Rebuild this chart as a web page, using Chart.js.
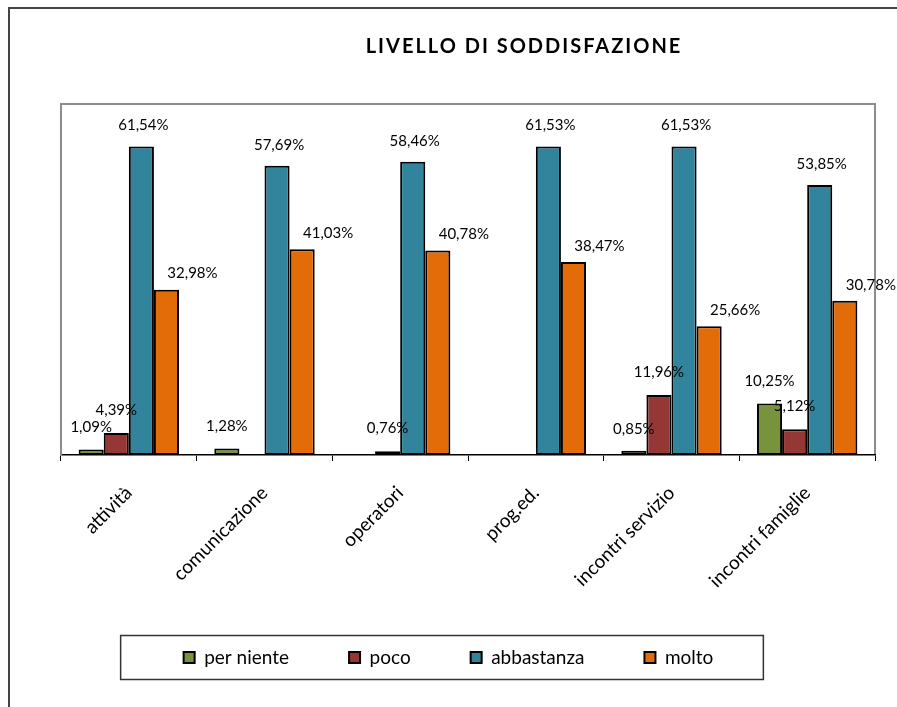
<!DOCTYPE html>
<html lang="it">
<head>
<meta charset="utf-8">
<title>Livello di soddisfazione</title>
<script src="https://cdn.jsdelivr.net/npm/chart.js@4"></script>
<style>
  html, body { margin: 0; padding: 0; background: #fff; overflow: hidden; }
  #wrap { position: relative; width: 897px; height: 707px; }
</style>
</head>
<body>
<div id="wrap"><canvas id="chart"></canvas></div>
<script>
// Values (percent)
const CATEGORIES = ['attività', 'comunicazione', 'operatori', 'prog.ed.', 'incontri servizio', 'incontri famiglie'];
const PER_NIENTE = [1.09, 1.28, 0, 0, 0.85, 10.25];
const POCO = [4.39, 0, 0.76, 0, 11.96, 5.12];
const ABBASTANZA = [61.54, 57.69, 58.46, 61.53, 61.53, 53.85];
const MOLTO = [32.98, 41.03, 40.78, 38.47, 25.66, 30.78];

const TITLE = 'LIVELLO DI SODDISFAZIONE';

const COLORS = {
  perNiente: '#77933C',
  poco: '#953735',
  abbastanza: '#31849B',
  molto: '#E36C09',
};

// label nudges per series: dx, distance above bar top
const LABEL_SHIFT = [
  { dx: 0, dy: 22 },
  { dx: 0, dy: 23 },
  { dx: 2, dy: 21 },
  { dx: 26, dy: 16 },
];

Chart.defaults.font.family = 'Lato, "Open Sans", sans-serif';
Chart.defaults.color = '#000';

const fmt = (v) => v.toFixed(2).replace('.', ',') + '%';

// Frame, plot border, title, value labels, legend box
const decorPlugin = {
  id: 'decor',
  beforeDraw(chart) {
    const { ctx, chartArea: a } = chart;
    ctx.save();
    ctx.strokeStyle = '#444';
    ctx.lineWidth = 2;
    ctx.beginPath();
    ctx.moveTo(9, chart.height);
    ctx.lineTo(9, 8);
    ctx.lineTo(chart.width + 2, 8);
    ctx.stroke();

    ctx.strokeStyle = '#8c8c8c';
    ctx.lineWidth = 2;
    ctx.beginPath();
    ctx.moveTo(a.left, a.top);
    ctx.lineTo(a.right, a.top);
    ctx.lineTo(a.right, a.bottom);
    ctx.stroke();

    ctx.fillStyle = '#000';
    ctx.font = 'bold 20px Lato, sans-serif';
    ctx.letterSpacing = '2px';
    ctx.textAlign = 'center';
    ctx.textBaseline = 'middle';
    ctx.fillText(TITLE, 524, 47);
    ctx.restore();
  },
  afterDatasetsDraw(chart) {
    const { ctx } = chart;
    ctx.save();
    ctx.font = '15px Lato, sans-serif';
    ctx.fillStyle = '#000';
    ctx.textAlign = 'center';
    ctx.textBaseline = 'middle';
    chart.data.datasets.forEach((ds, i) => {
      const meta = chart.getDatasetMeta(i);
      const s = LABEL_SHIFT[i];
      meta.data.forEach((bar, j) => {
        const v = ds.data[j];
        if (!v) return;
        ctx.fillText(fmt(v), bar.x + s.dx, bar.y - s.dy);
      });
    });
    ctx.restore();
  },
  afterDraw(chart) {
    const boxes = chart.legend && chart.legend.legendHitBoxes;
    if (!boxes || !boxes.length) return;
    const first = boxes[0];
    const last = boxes[boxes.length - 1];
    const cy = first.top + first.height / 2;
    const { ctx } = chart;
    ctx.save();
    ctx.strokeStyle = '#333';
    ctx.lineWidth = 1.5;
    ctx.strokeRect(first.left - 63, cy - 22, (last.left + last.width + 50) - (first.left - 63), 44);
    ctx.restore();
  },
};

const barStyle = {
  borderColor: '#000',
  borderWidth: 2,
  borderSkipped: false,
  categoryPercentage: 0.74,
  barPercentage: 1.0,
};

new Chart(document.getElementById('chart'), {
  type: 'bar',
  data: {
    labels: CATEGORIES,
    datasets: [
      { label: 'per niente', data: PER_NIENTE, backgroundColor: COLORS.perNiente, ...barStyle },
      { label: 'poco', data: POCO, backgroundColor: COLORS.poco, ...barStyle },
      { label: 'abbastanza', data: ABBASTANZA, backgroundColor: COLORS.abbastanza, ...barStyle },
      { label: 'molto', data: MOLTO, backgroundColor: COLORS.molto, ...barStyle },
    ],
  },
  options: {
    responsive: true,
    maintainAspectRatio: false,
    animation: false,
    layout: { padding: { left: 22, right: 22, top: 104, bottom: 30 } },
    plugins: {
      title: { display: false },
      tooltip: { enabled: false },
      legend: {
        position: 'bottom',
        labels: {
          boxWidth: 11,
          boxHeight: 11,
          padding: 60,
          font: { size: 19 },
          color: '#000',
        },
      },
    },
    scales: {
      x: {
        offset: true,
        grid: { offset: true, drawOnChartArea: false, drawTicks: true, tickLength: 6, color: '#000', lineWidth: 1 },
        border: { color: '#000', width: 1.5 },
        ticks: { autoSkip: false, minRotation: 45, maxRotation: 45, padding: 22, font: { size: 19, lineHeight: 1 }, color: '#000' },
        afterFit(s) { s.height = 133; },
      },
      y: {
        min: 0,
        max: 70,
        grid: { display: false, drawTicks: false },
        border: { color: '#8c8c8c', width: 2 },
        ticks: { display: false },
        afterFit(s) { s.width = 39; },
      },
    },
  },
  plugins: [decorPlugin],
});
</script>
</body>
</html>
